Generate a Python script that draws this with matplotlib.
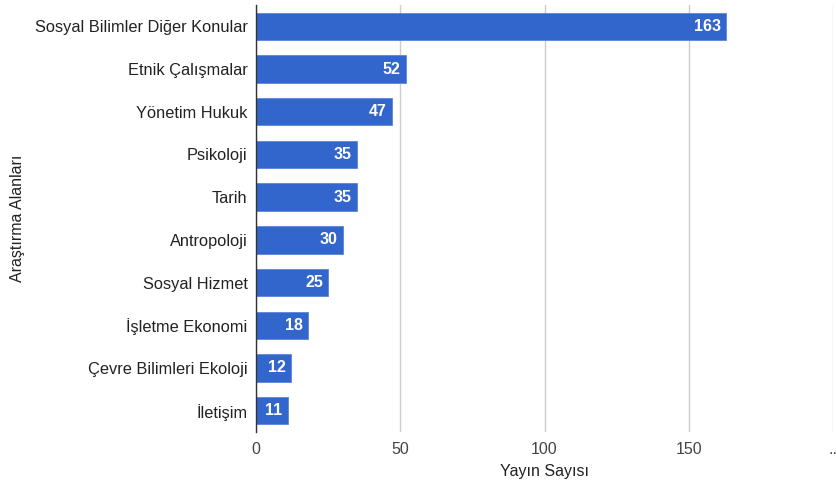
import matplotlib
matplotlib.use("Agg")
import matplotlib.pyplot as plt

categories = ["Sosyal Bilimler Diğer Konular", "Etnik Çalışmalar", "Yönetim Hukuk",
              "Psikoloji", "Tarih", "Antropoloji", "Sosyal Hizmet", "İşletme Ekonomi",
              "Çevre Bilimleri Ekoloji", "İletişim"]
values = [163, 52, 47, 35, 35, 30, 25, 18, 12, 11]
x_ticks = [0, 50, 100, 150, 200]
x_tick_labels = ["0", "50", "100", "150", ".."]

plt.rcParams['font.family'] = ['Liberation Sans', 'DejaVu Sans']

fig = plt.figure(figsize=(8.37, 4.87), dpi=100)
ax = fig.add_axes([256/837, 1-432/487, (833-256)/837, (432-5)/487])

ypos = list(range(len(categories)))
ax.barh(ypos, values, height=0.64, color="#3366cc", edgecolor="#5b85d6", linewidth=0.6, zorder=3)
for y, v in zip(ypos, values):
    ax.text(v - 1.8, y, str(v), ha="right", va="center", color="white",
            fontsize=11.5, fontweight="bold", zorder=4)

ax.set_ylim(len(categories) - 0.5, -0.5)
ax.set_xlim(0, 200)
ax.set_yticks(ypos)
ax.set_yticklabels(categories, fontsize=11.8, color="#222222")
ax.set_xticks(x_ticks)
ax.set_xticklabels(x_tick_labels, fontsize=11.5, color="#444444")
ax.tick_params(axis="y", length=0, pad=6)
ax.tick_params(axis="x", length=0, pad=7)
ax.grid(axis="x", color="#cccccc", linewidth=1, zorder=0)
for s in ["top", "right", "bottom"]:
    ax.spines[s].set_visible(False)
ax.spines["left"].set_color("#333333")
ax.spines["left"].set_linewidth(1)
ax.spines["left"].set_zorder(5)

ax.set_xlabel("Yayın Sayısı", fontsize=11.5, color="#222222", labelpad=5)
ax.set_ylabel("Araştırma Alanları", fontsize=11.5, color="#222222")
ax.yaxis.set_label_coords(-231/577, 0.5)

fig.savefig("out.png", dpi=100)
